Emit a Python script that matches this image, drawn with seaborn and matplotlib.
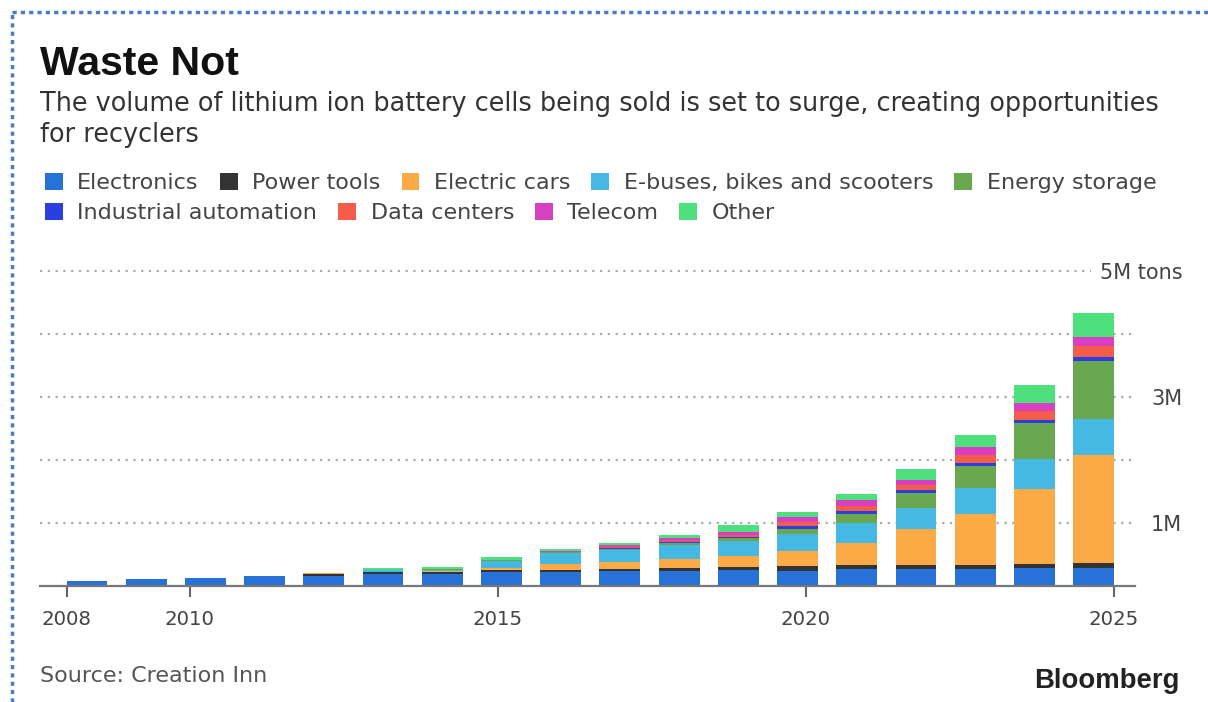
import matplotlib
matplotlib.use("Agg")
import matplotlib.pyplot as plt
from matplotlib.lines import Line2D
import numpy as np
import pandas as pd
import seaborn as sns

# ---------------- data (million tons) ----------------
years = list(range(2008, 2026))
electronics = [0.08, 0.105, 0.13, 0.16, 0.16, 0.19, 0.19, 0.23, 0.22, 0.24, 0.245, 0.255, 0.24, 0.27, 0.27, 0.265, 0.28, 0.29]
power_tools = [0.0, 0.0, 0.0, 0.0, 0.03, 0.03, 0.03, 0.02, 0.04, 0.03, 0.04, 0.05, 0.07, 0.06, 0.06, 0.075, 0.065, 0.08]
electric_cars = [0.0, 0.0, 0.0, 0.0, 0.01, 0.01, 0.02, 0.03, 0.09, 0.11, 0.14, 0.175, 0.24, 0.355, 0.57, 0.80, 1.19, 1.71]
ebuses = [0.0, 0.0, 0.0, 0.0, 0.0, 0.02, 0.02, 0.11, 0.17, 0.195, 0.227, 0.233, 0.28, 0.32, 0.34, 0.42, 0.48, 0.57]
energy_storage = [0.0, 0.0, 0.0, 0.0, 0.0, 0.01, 0.01, 0.02, 0.02, 0.02, 0.026, 0.042, 0.08, 0.13, 0.23, 0.35, 0.57, 0.915]
industrial = [0.0, 0.0, 0.0, 0.0, 0.0, 0.0, 0.0, 0.0, 0.0, 0.01, 0.02, 0.03, 0.05, 0.05, 0.05, 0.05, 0.05, 0.075]
data_centers = [0.0, 0.0, 0.0, 0.0, 0.0, 0.0, 0.0, 0.0, 0.0, 0.01, 0.02, 0.03, 0.05, 0.08, 0.08, 0.12, 0.14, 0.165]
telecom = [0.0, 0.0, 0.0, 0.0, 0.0, 0.0, 0.0, 0.01, 0.01, 0.04, 0.04, 0.05, 0.085, 0.105, 0.09, 0.12, 0.13, 0.155]
other = [0.0, 0.0, 0.0, 0.0, 0.01, 0.03, 0.03, 0.04, 0.03, 0.026, 0.05, 0.11, 0.08, 0.095, 0.16, 0.19, 0.28, 0.37]

series_names = ["Electronics", "Power tools", "Electric cars", "E-buses, bikes and scooters",
                "Energy storage", "Industrial automation", "Data centers", "Telecom", "Other"]
series_values = [electronics, power_tools, electric_cars, ebuses, energy_storage,
                 industrial, data_centers, telecom, other]
series_colors = ["#2672d9", "#333333", "#fbaa45", "#45b9e3", "#6aa84f",
                 "#2a3fe0", "#f55d4a", "#d93fc3", "#4ee07c"]

x_tick_years = [2008, 2010, 2015, 2020, 2025]
y_ticks = [1, 2, 3, 4, 5]
y_tick_labels = ["1M", "", "3M", "", "5M tons"]

title = "Waste Not"
subtitle = ("The volume of lithium ion battery cells being sold is set to surge, creating opportunities\n"
            "for recyclers")
source = "Source: Creation Inn"
brand = "Bloomberg"

# ---------------- figure ----------------
sns.set_theme(style="white")
plt.rcParams["font.family"] = ["DejaVu Sans"]

W, H = 1208, 702
fig = plt.figure(figsize=(W / 100, H / 100), dpi=100)
fig.patch.set_facecolor("white")

ax_left, ax_right, ax_bottom, ax_top = 40, 1135, 586, 264.7
ax = fig.add_axes([ax_left / W, 1 - ax_bottom / H, (ax_right - ax_left) / W, (ax_bottom - ax_top) / H])
ax.set_facecolor("white")

bar_width = 0.69
bottom = np.zeros(len(years))
handles = []
for name, vals, col in zip(series_names, series_values, series_colors):
    df = pd.DataFrame({"year": years, "value": vals})
    sns.barplot(data=df, x="year", y="value", native_scale=True, color=col, saturation=1,
                width=bar_width, bottom=bottom.copy(), errorbar=None, linewidth=0, ax=ax, zorder=3)
    handles.append(ax.containers[-1])
    bottom += np.array(vals)

# Bloomberg-style time ticks: the tick span runs from the left edge of the first
# bar to the right edge of the last bar.
first, last = years[0], years[-1]
span = (last - first) + bar_width
tick_pos = [first - bar_width / 2 + (y - first) * span / (last - first) for y in x_tick_years]

ax.set_xlim(first - 0.794, first + 17.70)
ax.set_ylim(0, 5.1)
ax.set_xlabel("")
ax.set_ylabel("")

for s in ["top", "left", "right"]:
    ax.spines[s].set_visible(False)
ax.spines["bottom"].set_color("#777777")
ax.spines["bottom"].set_linewidth(1.6)
ax.spines["bottom"].set_zorder(4)

ax.set_xticks(tick_pos)
ax.set_xticklabels([str(y) for y in x_tick_years])
ax.tick_params(axis="x", direction="out", length=8, width=1.5, color="#666666",
               labelsize=14.2, labelcolor="#444444", pad=9, bottom=True)

ax.yaxis.tick_right()
ax.set_yticks(y_ticks)
ax.set_yticklabels(y_tick_labels)
ax.tick_params(axis="y", length=0, labelsize=15, labelcolor="#444444", pad=34)
for lab in ax.get_yticklabels():
    lab.set_horizontalalignment("right")
    lab.set_bbox(dict(facecolor="white", edgecolor="none", pad=6))

ax.grid(axis="y", color="#aaaaaa", linestyle=(0, (1, 2.5)), linewidth=1.6, zorder=0)
ax.grid(axis="x", visible=False)
ax.set_axisbelow(True)

# ---------------- legends ----------------
leg_kw = dict(loc="center left", frameon=False, fontsize=16, handlelength=0.8, handleheight=0.8,
              handletextpad=0.65, columnspacing=0.95, borderpad=0, labelcolor="#444444")
leg1 = fig.legend(handles[:5], series_names[:5], ncol=5,
                  bbox_to_anchor=(34 / W, 1 - 183 / H), **leg_kw)
leg2 = fig.legend(handles[5:], series_names[5:], ncol=4,
                  bbox_to_anchor=(34 / W, 1 - 213 / H), **leg_kw)

# ---------------- texts ----------------
fig.text(40 / W, 1 - 75 / H, title, fontsize=29.5, fontweight="bold", family="Liberation Sans",
         color="#111111", va="baseline", ha="left")
fig.text(40 / W, 1 - 91 / H, subtitle, fontsize=18.4, color="#333333", va="top", ha="left",
         linespacing=1.25)
fig.text(40 / W, 1 - 676 / H, source, fontsize=16, color="#555555", va="center", ha="left")
fig.text(1180 / W, 1 - 681 / H, brand, fontsize=19.8, fontweight="bold", family="Liberation Sans",
         color="#222222", va="center", ha="right")

# ---------------- dotted frame ----------------
fig.add_artist(Line2D([12 / W, 1], [1 - 12 / H, 1 - 12 / H], transform=fig.transFigure,
                      color="#4a7bc4", lw=2.5, linestyle=(0, (1.2, 1.2))))
fig.add_artist(Line2D([12 / W, 12 / W], [0, 1 - 12 / H], transform=fig.transFigure,
                      color="#4a7bc4", lw=2.5, linestyle=(0, (1.2, 1.2))))

fig.savefig("out.png", dpi=100, facecolor="white")
